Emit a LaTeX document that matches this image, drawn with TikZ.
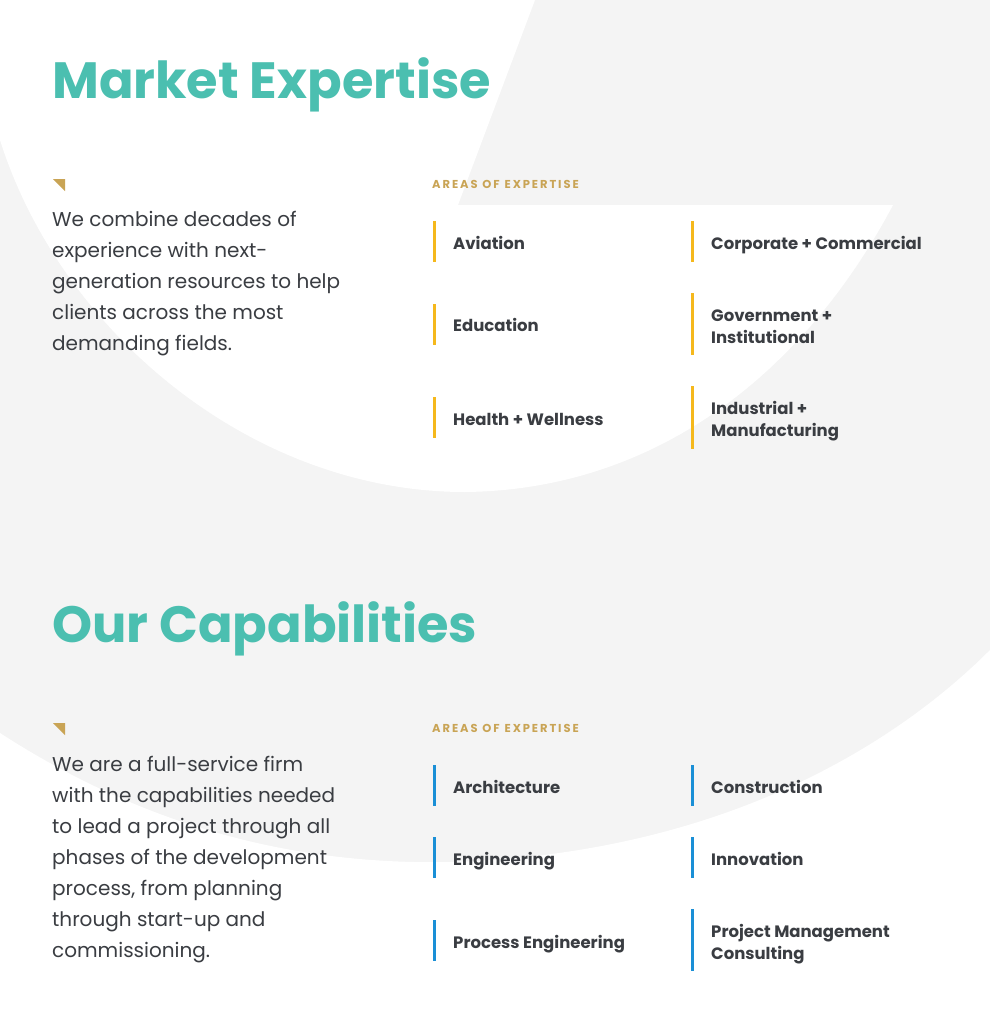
\documentclass[tikz,border=0pt]{standalone}
\usepackage{fontspec}
\setmainfont{Poppins}
\definecolor{bgg}{HTML}{F4F4F4}
\definecolor{teal}{HTML}{4BBFB0}
\definecolor{gold}{HTML}{C9A455}
\definecolor{ylw}{HTML}{F5B81C}
\definecolor{blu}{HTML}{1A8FD6}
\definecolor{txt}{HTML}{3A3D42}
\tikzset{
 head/.style={anchor=base west,inner sep=0,text=teal,font=\fontsize{51}{56}\selectfont\bfseries},
 body/.style={anchor=base west,inner sep=0,text=txt,align=left,font=\fontsize{20}{31}\selectfont},
 areas/.style={anchor=base west,inner sep=0,text=gold,font=\fontsize{11.5}{12}\selectfont\bfseries},
 item/.style={anchor=base west,inner sep=0,text=txt,align=left,font=\fontsize{16.5}{22}\selectfont\bfseries},
 ybar/.style={draw=ylw,line width=3pt},
 bbar/.style={draw=blu,line width=3pt},
 goldmark/.style={fill=gold}
}
\begin{document}
\begin{tikzpicture}[x=1pt,y=-1pt]
\useasboundingbox (0,0) rectangle (990,1028);
\fill[bgg] (0,0) rectangle (990,1028);
\fill[white] (0,0) -- (535,0) -- (458,205) -- (893,205) .. controls (800,380) and (650,490) .. (465,492) .. controls (250,492) and (60,330) .. (0,140) -- cycle;
\fill[white] (0,733) .. controls (150,830) and (300,865) .. (450,862) .. controls (700,855) and (880,760) .. (990,650) -- (990,1028) -- (0,1028) -- cycle;

\node[head] (h1) at (52,98) {Market Expertise};
\node[head] (h2) at (52,642) {Our Capabilities};
\fill[goldmark] (53,179) -- (65,179) -- (65,191) -- cycle;
\fill[goldmark] (53,723) -- (65,723) -- (65,735) -- cycle;
\node[body] (b1) at (52,350) {We combine decades of\\experience with next-\\generation resources to help\\clients across the most\\demanding fields.};
\node[body] (b2) at (52,957) {We are a full-service firm\\with the capabilities needed\\to lead a project through all\\phases of the development\\process, from planning\\through start-up and\\commissioning.};
\node[areas] (a1) at (432,188) {A\,R\,E\,A\,S\ \ O\,F\ \ E\,X\,P\,E\,R\,T\,I\,S\,E};
\node[areas] (a2) at (432,732) {A\,R\,E\,A\,S\ \ O\,F\ \ E\,X\,P\,E\,R\,T\,I\,S\,E};

\draw[ybar] (434,221) -- (434,262); \node[item] (i1) at (453,249) {Aviation};
\draw[ybar] (434,304) -- (434,345); \node[item] (i2) at (453,331) {Education};
\draw[ybar] (434,397) -- (434,438); \node[item] (i3) at (453,425) {Health + Wellness};
\draw[ybar] (692,221) -- (692,262); \node[item] (i4) at (711,249) {Corporate + Commercial};
\draw[ybar] (692,293) -- (692,355); \node[item] (i5) at (711,343) {Government +\\Institutional};
\draw[ybar] (692,386) -- (692,449); \node[item] (i6) at (711,436) {Industrial +\\Manufacturing};

\draw[bbar] (434,765) -- (434,806); \node[item] (j1) at (453,793) {Architecture};
\draw[bbar] (434,837) -- (434,878); \node[item] (j2) at (453,865) {Engineering};
\draw[bbar] (434,920) -- (434,961); \node[item] (j3) at (453,948) {Process Engineering};
\draw[bbar] (692,765) -- (692,806); \node[item] (j4) at (711,793) {Construction};
\draw[bbar] (692,837) -- (692,878); \node[item] (j5) at (711,865) {Innovation};
\draw[bbar] (692,909) -- (692,971); \node[item] (j6) at (711,959) {Project Management\\Consulting};
\end{tikzpicture}
\end{document}
